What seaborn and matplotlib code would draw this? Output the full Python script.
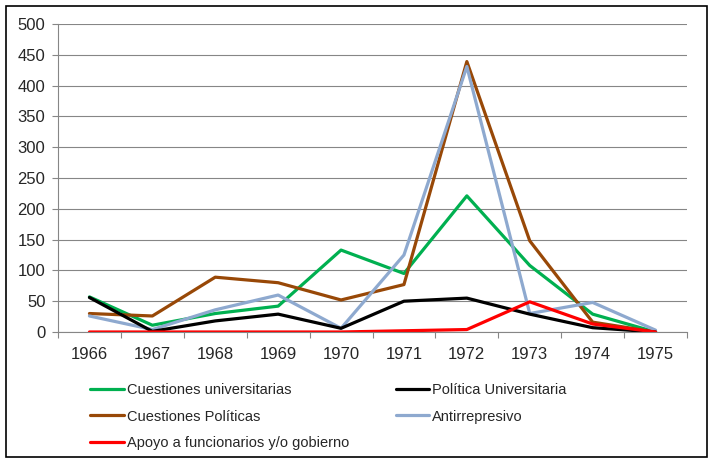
import matplotlib
matplotlib.use("Agg")
import matplotlib.pyplot as plt
import seaborn as sns
import pandas as pd
from matplotlib.patches import Rectangle

# Datos
years = [1966, 1967, 1968, 1969, 1970, 1971, 1972, 1973, 1974, 1975]
cuestiones_univ = [57, 11, 30, 42, 133, 95, 221, 108, 29, 0]
politica_univ = [56, 1, 18, 29, 6, 50, 55, 29, 7, 0]
cuestiones_pol = [30, 26, 89, 80, 52, 77, 439, 148, 16, 0]
antirrepresivo = [26, 4, 36, 60, 6, 125, 431, 30, 48, 3]
apoyo = [0, 0, 0, 0, 0, 2, 4, 49, 13, 0]

series = {
    "Cuestiones universitarias": cuestiones_univ,
    "Política Universitaria": politica_univ,
    "Cuestiones Políticas": cuestiones_pol,
    "Antirrepresivo": antirrepresivo,
    "Apoyo a funcionarios y/o gobierno": apoyo,
}
colors = {
    "Cuestiones universitarias": "#00B050",
    "Política Universitaria": "#000000",
    "Cuestiones Políticas": "#984807",
    "Antirrepresivo": "#8EA9CF",
    "Apoyo a funcionarios y/o gobierno": "#FF0000",
}

rows = []
for name, vals in series.items():
    for y, v in zip(years, vals):
        rows.append({"Año": y, "Valor": v, "Serie": name})
df = pd.DataFrame(rows)

sns.set_style("white")
plt.rcParams["font.family"] = ["Liberation Sans", "DejaVu Sans"]

fig = plt.figure(figsize=(7.11, 4.63), dpi=100)
ax = fig.add_axes([58 / 711, 1 - 332 / 463, (687 - 58) / 711, (332 - 24) / 463])

# orden de dibujo: el rojo queda arriba
draw_order = ["Cuestiones universitarias", "Cuestiones Políticas", "Antirrepresivo",
              "Política Universitaria", "Apoyo a funcionarios y/o gobierno"]
sns.lineplot(data=df, x="Año", y="Valor", hue="Serie", hue_order=draw_order,
             palette=colors, linewidth=2.3, ax=ax, legend=False)

ax.set_xlim(1965.5, 1975.5)
ax.set_ylim(0, 500)
ax.set_yticks(range(0, 501, 50))
ax.set_xticks(years)
ax.set_xticks([y - 0.5 for y in years] + [1975.5], minor=True)
ax.set_xlabel("")
ax.set_ylabel("")
ax.grid(axis="y", color="#868686", linewidth=0.8)
ax.set_axisbelow(True)
for s in ["top", "right"]:
    ax.spines[s].set_visible(False)
for s in ["left", "bottom"]:
    ax.spines[s].set_color("#868686")
    ax.spines[s].set_linewidth(0.8)
ax.tick_params(axis="x", which="major", length=0, pad=10.5, labelsize=12)
ax.tick_params(axis="x", which="minor", length=4, color="#868686", width=0.8,
               direction="out", bottom=True)
ax.tick_params(axis="y", length=4, color="#868686", width=0.8, direction="out",
               left=True, pad=5, labelsize=12)

# leyenda en dos columnas (orden por filas como en el original)
handles = {}
for name in series:
    handles[name] = plt.Line2D([], [], color=colors[name], linewidth=2.3)
leg_order = ["Cuestiones universitarias", "Cuestiones Políticas",
             "Apoyo a funcionarios y/o gobierno",
             "Política Universitaria", "Antirrepresivo"]
fig.legend([handles[n] for n in leg_order], leg_order, ncol=2,
           loc="upper left", bbox_to_anchor=(77 / 711, 1 - 370 / 463),
           frameon=False, fontsize=10.5, handlelength=2.3, handletextpad=0.2,
           labelspacing=0.85, columnspacing=3.2)

fig.patches.append(Rectangle((6 / 711, 6 / 463), 701 / 711, 451 / 463,
                             transform=fig.transFigure, fill=False,
                             edgecolor="black", linewidth=1.2))

fig.savefig("out.png", dpi=100)
